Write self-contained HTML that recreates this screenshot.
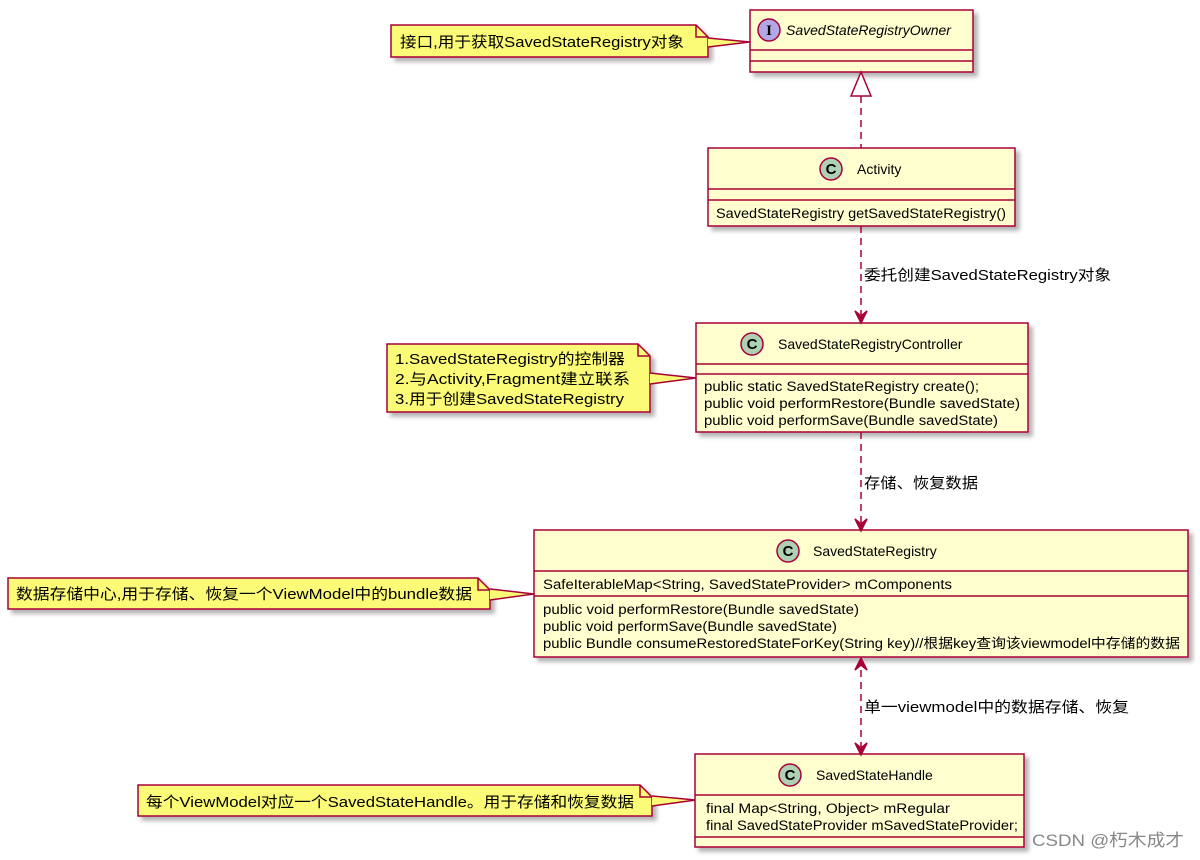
<!DOCTYPE html>
<html><head><meta charset="utf-8"><style>
html,body{margin:0;padding:0;background:#fff;}
svg{display:block;}
text{font-family:"Liberation Sans","Noto Sans CJK SC",sans-serif;font-size:13.5px;fill:#000;}
</style></head><body>
<svg width="1200" height="860" viewBox="0 0 1200 860" xmlns="http://www.w3.org/2000/svg">
<defs>
<filter id="sh" x="-5%" y="-10%" width="115%" height="140%"><feDropShadow dx="4" dy="4" stdDeviation="2" flood-color="#000" flood-opacity="0.3"/></filter>
</defs>
<g stroke="#A80036" stroke-width="1.5">
<!-- notes -->
<path d="M391,25 H696 L708,37 V57 H391 Z" fill="#FBFB77" filter="url(#sh)"/>
<path d="M696,25 V37 H708" fill="none"/>
<path d="M708,38 L750,42 L708,47" fill="#FBFB77"/>
<path d="M387,344 H638 L650,356 V412 H387 Z" fill="#FBFB77" filter="url(#sh)"/>
<path d="M638,344 V356 H650" fill="none"/>
<path d="M650,373 L696,378 L650,384" fill="#FBFB77"/>
<path d="M8,578 H478 L490,590 V609 H8 Z" fill="#FBFB77" filter="url(#sh)"/>
<path d="M478,578 V590 H490" fill="none"/>
<path d="M490,589 L534,594 L490,600" fill="#FBFB77"/>
<path d="M138,785 H640 L652,797 V816 H138 Z" fill="#FBFB77" filter="url(#sh)"/>
<path d="M640,785 V797 H652" fill="none"/>
<path d="M652,796 L696,800 L652,806" fill="#FBFB77"/>
<!-- boxes -->
<rect x="750" y="10" width="223" height="62" fill="#FEFECE" filter="url(#sh)"/>
<line x1="750" y1="50" x2="973" y2="50"/><line x1="750" y1="61" x2="973" y2="61"/>
<rect x="708" y="148" width="307" height="78" fill="#FEFECE" filter="url(#sh)"/>
<line x1="708" y1="189" x2="1015" y2="189"/><line x1="708" y1="200" x2="1015" y2="200"/>
<rect x="696" y="323" width="332" height="109" fill="#FEFECE" filter="url(#sh)"/>
<line x1="696" y1="364" x2="1028" y2="364"/><line x1="696" y1="374" x2="1028" y2="374"/>
<rect x="534" y="530" width="654" height="127" fill="#FEFECE" filter="url(#sh)"/>
<line x1="534" y1="571" x2="1188" y2="571"/><line x1="534" y1="596" x2="1188" y2="596"/>
<rect x="695" y="754" width="329" height="93" fill="#FEFECE" filter="url(#sh)"/>
<line x1="695" y1="795" x2="1024" y2="795"/><line x1="695" y1="837" x2="1024" y2="837"/>
<!-- connectors -->
<g fill="none" stroke-dasharray="7,5">
<line x1="861" y1="96" x2="861" y2="148"/>
<line x1="861" y1="226" x2="861" y2="322"/>
<line x1="861" y1="432" x2="861" y2="530"/>
<line x1="861" y1="658" x2="861" y2="753"/>
</g>
<path d="M861,72 L851,96 H871 Z" fill="#fff"/>
<path d="M855,311 L861,323 L867,311 L861,316 Z" fill="#A80036"/>
<path d="M855,519 L861,531 L867,519 L861,524 Z" fill="#A80036"/>
<path d="M855,743 L861,755 L867,743 L861,748 Z" fill="#A80036"/>
<path d="M855,670 L861,658 L867,670 L861,665 Z" fill="#A80036"/>
<!-- circles -->
<circle cx="769" cy="30" r="11" fill="#B4A7E5"/>
<circle cx="831" cy="169" r="11" fill="#ADD1B2"/>
<circle cx="752" cy="344" r="11" fill="#ADD1B2"/>
<circle cx="788" cy="551" r="11" fill="#ADD1B2"/>
<circle cx="790" cy="775" r="11" fill="#ADD1B2"/>
</g>
<g style="font-weight:bold;font-size:15px;font-family:'Liberation Serif',serif" text-anchor="middle">
<text x="769" y="35" style="font-family:'Liberation Serif',serif;font-weight:bold;font-size:15px">I</text>
<text x="831" y="174" style="font-family:'Liberation Sans',sans-serif;font-weight:bold;font-size:15px">C</text>
<text x="752" y="349" style="font-family:'Liberation Sans',sans-serif;font-weight:bold;font-size:15px">C</text>
<text x="788" y="556" style="font-family:'Liberation Sans',sans-serif;font-weight:bold;font-size:15px">C</text>
<text x="790" y="780" style="font-family:'Liberation Sans',sans-serif;font-weight:bold;font-size:15px">C</text>
</g>
<text x="786" y="35" font-style="italic" style="font-size:14px">SavedStateRegistryOwner</text>
<text x="857" y="174" style="font-size:14px">Activity</text>
<text x="778" y="349" style="font-size:14px">SavedStateRegistryController</text>
<text x="813" y="556" style="font-size:14px">SavedStateRegistry</text>
<text x="816" y="780" style="font-size:14px">SavedStateHandle</text>

<text x="716" y="218" textLength="290" lengthAdjust="spacingAndGlyphs">SavedStateRegistry getSavedStateRegistry()</text>
<text x="704" y="391" textLength="275" lengthAdjust="spacingAndGlyphs">public static SavedStateRegistry create();</text>
<text x="704" y="408" textLength="316" lengthAdjust="spacingAndGlyphs">public void performRestore(Bundle savedState)</text>
<text x="704" y="425" textLength="294" lengthAdjust="spacingAndGlyphs">public void performSave(Bundle savedState)</text>
<text x="543" y="589" textLength="409" lengthAdjust="spacingAndGlyphs">SafeIterableMap&lt;String, SavedStateProvider&gt; mComponents</text>
<text x="543" y="614" textLength="316" lengthAdjust="spacingAndGlyphs">public void performRestore(Bundle savedState)</text>
<text x="543" y="631" textLength="294" lengthAdjust="spacingAndGlyphs">public void performSave(Bundle savedState)</text>
<text x="543" y="648" textLength="637" lengthAdjust="spacingAndGlyphs">public Bundle consumeRestoredStateForKey(String key)//根据key查询该viewmodel中存储的数据</text>
<text x="706" y="813" textLength="244" lengthAdjust="spacingAndGlyphs">final Map&lt;String, Object&gt; mRegular</text>
<text x="706" y="830" textLength="312" lengthAdjust="spacingAndGlyphs">final SavedStateProvider mSavedStateProvider;</text>

<text x="400" y="47" style="font-size:15px" textLength="284" lengthAdjust="spacingAndGlyphs">接口,用于获取SavedStateRegistry对象</text>
<text x="395" y="364" style="font-size:15px" textLength="230" lengthAdjust="spacingAndGlyphs">1.SavedStateRegistry的控制器</text>
<text x="395" y="384" style="font-size:15px" textLength="235" lengthAdjust="spacingAndGlyphs">2.与Activity,Fragment建立联系</text>
<text x="395" y="404" style="font-size:15px" textLength="229" lengthAdjust="spacingAndGlyphs">3.用于创建SavedStateRegistry</text>
<text x="16" y="599" style="font-size:15px" textLength="456" lengthAdjust="spacingAndGlyphs">数据存储中心,用于存储、恢复一个ViewModel中的bundle数据</text>
<text x="146" y="807" style="font-size:15px" textLength="488" lengthAdjust="spacingAndGlyphs">每个ViewModel对应一个SavedStateHandle。用于存储和恢复数据</text>

<text x="864" y="280" style="font-size:15px" textLength="247" lengthAdjust="spacingAndGlyphs">委托创建SavedStateRegistry对象</text>
<text x="864" y="488" style="font-size:15px" textLength="114" lengthAdjust="spacingAndGlyphs">存储、恢复数据</text>
<text x="864" y="712" style="font-size:15px" textLength="265" lengthAdjust="spacingAndGlyphs">单一viewmodel中的数据存储、恢复</text>
<text x="1032" y="846" style="font-size:17px;fill:#888" textLength="152" lengthAdjust="spacingAndGlyphs">CSDN @朽木成才</text>
</svg>
</body></html>
